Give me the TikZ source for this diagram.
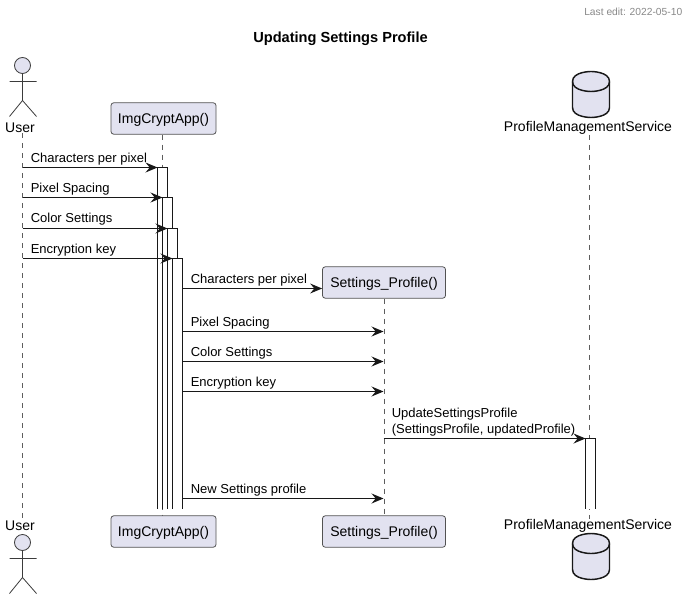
\documentclass[tikz,border=0pt]{standalone}
\usepackage{fontspec}
\setmainfont{Liberation Sans}
\usepackage{xcolor}
\usetikzlibrary{positioning, arrows.meta}
\definecolor{partfill}{HTML}{E2E2F0}
\definecolor{inkdark}{HTML}{181818}
\definecolor{footgray}{HTML}{888888}

\begin{document}
\begin{tikzpicture}[
    x=0.75pt, y=-0.75pt,
    partbox/.style={draw=inkdark!75, fill=partfill, rounded corners=2pt, line width=0.6pt, minimum height=23.5pt, text height=9.4pt, text depth=2.3pt, font=\fontsize{10.5}{12}\selectfont, inner sep=0pt},
    partname/.style={font=\fontsize{10.5}{12}\selectfont, inner sep=0pt},
    msglabel/.style={font=\fontsize{9.75}{11.5}\selectfont, inner sep=0pt, anchor=west, align=left},
    lifeline/.style={draw=inkdark!70, line width=0.45pt, dash pattern=on 3.75pt off 3.75pt},
    arrow/.style={-{Stealth[length=9pt, width=7.5pt, inset=3.2pt]}, draw=inkdark, line width=0.75pt},
    actbar/.style={draw=inkdark, line width=0.75pt},
    actor/.style={draw=inkdark!85, line width=0.6pt},
]
\useasboundingbox (-0.5,-0.5) rectangle (687.5,597.5);

% Title and footer
\node[font=\bfseries\fontsize{10.95}{12}\selectfont, inner sep=0pt] (title) at (340,38.5) {Updating Settings Profile};
\node[font=\fontsize{7.7}{9}\selectfont, text=footgray, inner sep=0pt, anchor=east] (lastedit) at (682,11) {Last edit: 2022-05-10};

% Participants
\node[partname] (userT) at (19.5,127.5) {User};
\node[partname] (userB) at (19.5,525.5) {User};
\node[partbox, minimum width=78.75pt] (appT) at (163,118) {ImgCryptApp()};
\node[partbox, minimum width=78.75pt] (appB) at (163,531) {ImgCryptApp()};
\node[partbox, minimum width=92.25pt] (setT) at (383.5,282) {Settings\_Profile()};
\node[partbox, minimum width=92.25pt] (setB) at (383.5,531) {Settings\_Profile()};
\node[partname] (pmsT) at (587.5,127.5) {ProfileManagementService};
\node[partname] (pmsB) at (587.5,525.5) {ProfileManagementService};

% Lifelines
\draw[lifeline] ([xshift=1.9pt]userT.south) -- ([xshift=1.9pt]userB.north);
\draw[lifeline] ([xshift=-0.75pt]appT.south) -- ([xshift=-0.75pt]appB.north);
\draw[lifeline] (setT.south) -- (setB.north);
\draw[lifeline] ([xshift=1.1pt]pmsT.south) -- ([xshift=1.1pt]pmsB.north);

% Actor figures
\foreach \ya in {65,542} {
  \begin{scope}[shift={(0,\ya)}]
    \draw[actor, fill=partfill] (22,0) circle (8);
    \draw[actor] (22,8) -- (22,35) (9,16) -- (36,16) (9,51) -- (22,35) -- (36,51);
  \end{scope}
}

% Database figures
\foreach \ya in {71,533} {
  \begin{scope}[shift={(0,\ya)}]
    \draw[draw=inkdark, fill=partfill, line width=1.1pt] (572,10) .. controls (572,0) and (590.5,0) .. (590.5,0) .. controls (590.5,0) and (609,0) .. (609,10) -- (609,36) .. controls (609,46) and (590.5,46) .. (590.5,46) .. controls (590.5,46) and (572,46) .. (572,36) -- cycle;
    \draw[draw=inkdark, line width=1.1pt] (572,10) .. controls (572,20) and (590.5,20) .. (590.5,20) .. controls (590.5,20) and (609,20) .. (609,10);
  \end{scope}
}

% Activation bars, open at the bottom
\foreach \xa/\ya in {157/167, 162/197, 167/228, 172/258, 585/438} {
  \fill[white] (\xa,\ya) rectangle (\xa+10,508);
  \draw[actbar] (\xa,508) -- (\xa,\ya) -- (\xa+10,\ya) -- (\xa+10,508);
}

% Message ends
\coordinate (u1) at (22,167);   \coordinate (a1) at (157,167);
\coordinate (u2) at (22,197);   \coordinate (a2) at (162,197);
\coordinate (u3) at (22,228);   \coordinate (a3) at (167,228);
\coordinate (u4) at (22,258);   \coordinate (a4) at (172,258);
\coordinate (b1) at (182,288);  \coordinate (s1) at (setT.west |- b1);
\coordinate (b2) at (182,331);  \coordinate (s2) at (383,331);
\coordinate (b3) at (182,361);  \coordinate (s3) at (383,361);
\coordinate (b4) at (182,391);  \coordinate (s4) at (383,391);
\coordinate (s5) at (383,438);  \coordinate (p5) at (585,438);
\coordinate (b6) at (182,498);  \coordinate (s6) at (383,498);

% Connections
\draw[arrow] (u1) -- (a1);
\draw[arrow] (u2) -- (a2);
\draw[arrow] (u3) -- (a3);
\draw[arrow] (u4) -- (a4);
\draw[arrow] (b1) -- (s1);
\draw[arrow] (b2) -- (s2);
\draw[arrow] (b3) -- (s3);
\draw[arrow] (b4) -- (s4);
\draw[arrow] (s5) -- (p5);
\draw[arrow] (b6) -- (s6);

% Labels
\node[msglabel] (m1) at (30,158.5) {Characters per pixel};
\node[msglabel] (m2) at (30,188.5) {Pixel Spacing};
\node[msglabel] (m3) at (30,218.5) {Color Settings};
\node[msglabel] (m4) at (30,249.5) {Encryption key};
\node[msglabel] (m5) at (190,279.5) {Characters per pixel};
\node[msglabel] (m6) at (190,322.5) {Pixel Spacing};
\node[msglabel] (m7) at (190,352.5) {Color Settings};
\node[msglabel] (m8) at (190,382.5) {Encryption key};
\node[msglabel] (m9) at (391,421.5) {UpdateSettingsProfile\\[1pt](SettingsProfile, updatedProfile)};
\node[msglabel] (m10) at (190,489.5) {New Settings profile};

\end{tikzpicture}
\end{document}
